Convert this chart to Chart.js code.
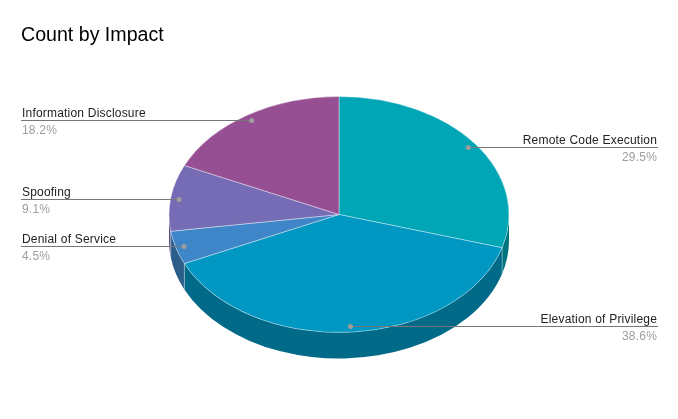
<!DOCTYPE html>
<html>
<head>
<meta charset="utf-8">
<script src="https://cdn.jsdelivr.net/npm/chart.js@4/dist/chart.umd.min.js"></script>
<style>
  body { margin: 0; background: #fff; }
  #wrap { position: relative; width: 678px; height: 419px; }
  #title { position: absolute; left: 21px; top: 23.5px; margin: 0; font: 19.6px/20px "Liberation Sans", Arial, sans-serif; color: #000; }
  canvas { position: absolute; left: 0; top: 0; }
</style>
</head>
<body>
<div id="wrap">
  <canvas id="pie" width="678" height="419"></canvas>
  <div id="title">Count by Impact</div>
</div>
<script>
// data (counts out of 44)
const impacts = ['Remote Code Execution', 'Elevation of Privilege', 'Denial of Service', 'Spoofing', 'Information Disclosure'];
const counts = [13, 17, 2, 4, 8];
const topColors = ['#00a6b5', '#0097c2', '#3e86c8', '#766cb6', '#954f92'];
const sideColors = ['#00747f', '#006a88', '#2c5e8c', '#534c80', '#683767'];

const tilt = 118 / 170;   // vertical squash of the pie
const depth = 26;         // thickness of the 3d side

const total = counts.reduce((a, b) => a + b, 0);

// draws the pie side, squashes the top, and places the leader labels
const pie3d = {
  id: 'pie3d',
  beforeDatasetsDraw(chart) {
    const ctx = chart.ctx;
    const arcs = chart.getDatasetMeta(0).data;
    const cx = arcs[0].x, cy = arcs[0].y, r = arcs[0].outerRadius, ry = r * tilt;

    arcs.forEach((arc, i) => {
      const a = Math.max(arc.startAngle, 0);
      const b = Math.min(arc.endAngle, Math.PI);
      if (b <= a) return;
      ctx.beginPath();
      ctx.ellipse(cx, cy, r, ry, 0, a, b);
      ctx.ellipse(cx, cy + depth, r, ry, 0, b, a, true);
      ctx.closePath();
      ctx.fillStyle = sideColors[i];
      ctx.fill();
    });
    // light seams where slices meet on the visible side
    ctx.strokeStyle = 'rgba(255,255,255,0.35)';
    ctx.lineWidth = 1;
    arcs.forEach(arc => {
      const t = arc.startAngle;
      if (t > 0 && t < Math.PI) {
        const x = cx + r * Math.cos(t), y = cy + ry * Math.sin(t);
        ctx.beginPath();
        ctx.moveTo(x, y);
        ctx.lineTo(x, y + depth);
        ctx.stroke();
      }
    });

    ctx.save();
    ctx.translate(cx, cy);
    ctx.scale(1, tilt);
    ctx.translate(-cx, -cy);
  },
  afterDatasetsDraw(chart) {
    chart.ctx.restore();
  },
  afterDraw(chart) {
    const ctx = chart.ctx;
    const arcs = chart.getDatasetMeta(0).data;
    const cx = arcs[0].x, cy = arcs[0].y, r = arcs[0].outerRadius, ry = r * tilt;
    ctx.save();
    arcs.forEach((arc, i) => {
      const mid = (arc.startAngle + arc.endAngle) / 2;
      const px = cx + 0.95 * r * Math.cos(mid);
      const py = Math.round(cy + 0.95 * ry * Math.sin(mid)) + 0.5;
      const right = Math.cos(mid) > 0;
      const edge = right ? 658 : 21;

      ctx.strokeStyle = '#777';
      ctx.lineWidth = 1;
      ctx.beginPath();
      ctx.moveTo(px, py);
      ctx.lineTo(edge, py);
      ctx.stroke();

      ctx.fillStyle = '#9e9e9e';
      ctx.beginPath();
      ctx.arc(px, py, 2.5, 0, Math.PI * 2);
      ctx.fill();

      ctx.textAlign = right ? 'right' : 'left';
      ctx.textBaseline = 'alphabetic';
      ctx.font = '12px "Liberation Sans", Arial, sans-serif';
      ctx.letterSpacing = '0.2px';
      const tx = right ? 657 : 22;
      ctx.fillStyle = '#222';
      ctx.fillText(impacts[i], tx, py - 3.5);
      ctx.fillStyle = '#9e9e9e';
      ctx.fillText((counts[i] / total * 100).toFixed(1) + '%', tx, py + 13);
    });
    ctx.restore();
  }
};

new Chart(document.getElementById('pie'), {
  type: 'pie',
  data: {
    labels: impacts,
    datasets: [{
      data: counts,
      backgroundColor: topColors,
      borderColor: 'rgba(255,255,255,0.45)',
      borderWidth: 1
    }]
  },
  options: {
    responsive: false,
    animation: false,
    devicePixelRatio: 1,
    layout: { padding: { top: 44, bottom: 34, left: 100, right: 100 } },
    plugins: {
      legend: { display: false },
      tooltip: { enabled: false },
      title: { display: false }
    }
  },
  plugins: [pie3d]
});
</script>
</body>
</html>
